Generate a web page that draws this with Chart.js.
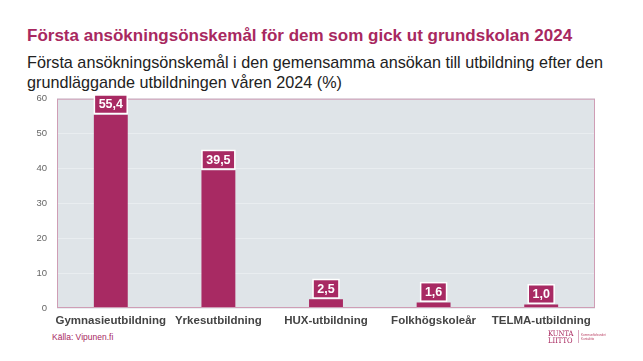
<!DOCTYPE html>
<html>
<head>
<meta charset="utf-8">
<script src="https://cdn.jsdelivr.net/npm/chart.js@4.4.0/dist/chart.umd.min.js"></script>
<style>
  html,body{margin:0;padding:0;background:#fff;width:643px;height:361px;overflow:hidden}
  body{position:relative;font-family:'Liberation Sans',Arial,sans-serif}
  .title{position:absolute;left:27px;top:26px;font-size:17px;font-weight:700;color:#a8285f;white-space:nowrap}
  .sub{position:absolute;left:27px;top:52px;font-size:16.2px;line-height:20px;color:#222;width:600px}
  .src{position:absolute;left:52px;top:332px;font-size:8.5px;color:#a8285f}
  .logo{position:absolute;left:548px;top:329px;width:50px;height:16px;color:#a8285f}
  .logo .w{position:absolute;left:0;font-family:'DejaVu Serif',serif;font-size:7.5px;line-height:7px;letter-spacing:0;transform:scaleX(0.9);transform-origin:left}
  .logo .sep{position:absolute;left:30px;top:1px;width:1px;height:13px;background:#d9a8bf}
  .logo .sm{position:absolute;left:33px;top:4px;font-size:3px;line-height:4px;color:#b46;white-space:nowrap}
  #wrap{position:absolute;left:0;top:83px;width:643px;height:249px}
</style>
</head>
<body>
<div class="title">Första ansökningsönskemål för dem som gick ut grundskolan 2024</div>
<div class="sub">Första ansökningsönskemål i den gemensamma ansökan till utbildning efter den grundläggande utbildningen våren 2024 (%)</div>
<div id="wrap"><canvas id="c" width="643" height="249"></canvas></div>
<div class="src">Källa: Vipunen.fi</div>
<div class="logo"><span class="w" style="top:1px">KUNTA</span><span class="w" style="top:8px">LIITTO</span><span class="sep"></span><span class="sm">Kommunförbundet<br>Kuntaliitto</span></div>
<script>
// data
const categories = ['Gymnasieutbildning', 'Yrkesutbildning', 'HUX-utbildning', 'Folkhögskoleår', 'TELMA-utbildning'];
const values = [55.4, 39.5, 2.5, 1.6, 1.0];
const yTicks = [0, 10, 20, 30, 40, 50, 60];

const MAGENTA = '#a82a63';

// grey plot background + pink frame
const plotBg = {
  id: 'plotBg',
  beforeDraw(chart) {
    const { ctx, chartArea: a } = chart;
    ctx.save();
    ctx.fillStyle = '#dfe4e8';
    ctx.fillRect(a.left, a.top, a.right - a.left, a.bottom - a.top);
    ctx.restore();
  },
  afterDatasetsDraw(chart) {
    const { ctx, chartArea: a } = chart;
    ctx.save();
    ctx.strokeStyle = '#cf9db5';
    ctx.lineWidth = 1;
    ctx.strokeRect(a.left + 0.5, a.top + 0.5, a.right - a.left - 1, a.bottom - a.top - 1);
    ctx.restore();
  }
};

// value labels in boxes above bars
const boxLabels = {
  id: 'boxLabels',
  afterDatasetsDraw(chart) {
    const { ctx } = chart;
    const meta = chart.getDatasetMeta(0);
    ctx.save();
    ctx.font = 'bold 12.5px "Liberation Sans", Arial, sans-serif';
    ctx.textAlign = 'center';
    ctx.textBaseline = 'middle';
    meta.data.forEach((bar, i) => {
      const txt = values[i].toFixed(1).replace('.', ',');
      const w = ctx.measureText(txt).width + 7;
      const h = 17;
      const x = bar.x - w / 2;
      const y = bar.y - 2 - h;
      ctx.fillStyle = '#ffffff';
      ctx.fillRect(x - 1.5, y - 1.5, w + 3, h + 3);
      ctx.fillStyle = MAGENTA;
      ctx.fillRect(x, y, w, h);
      ctx.fillStyle = '#ffffff';
      ctx.fillText(txt, bar.x, y + h / 2 + 0.5);
    });
    ctx.restore();
  }
};

new Chart(document.getElementById('c'), {
  type: 'bar',
  data: {
    labels: categories,
    datasets: [{
      data: values,
      backgroundColor: MAGENTA,
      borderWidth: 0,
      barPercentage: 0.63,
      categoryPercentage: 0.5
    }]
  },
  options: {
    responsive: false,
    animation: false,
    layout: { padding: { top: 3, right: 48, left: 0, bottom: 0 } },
    plugins: { legend: { display: false }, tooltip: { enabled: false } },
    scales: {
      x: {
        grid: { display: false, drawTicks: false },
        border: { display: false },
        ticks: {
          color: '#444',
          padding: 6,
          maxRotation: 0,
          autoSkip: false,
          font: { family: '"Liberation Sans", Arial, sans-serif', size: 11.5, weight: 'bold' }
        },
        afterFit(s) { s.height = 24; }
      },
      y: {
        min: 0,
        max: 60,
        afterBuildTicks(s) { s.ticks = yTicks.map(v => ({ value: v })); },
        grid: { color: '#e9edf0', lineWidth: 1, drawTicks: false },
        border: { display: false },
        ticks: {
          color: '#666',
          padding: 10,
          font: { family: '"Liberation Sans", Arial, sans-serif', size: 9.5 }
        },
        afterFit(s) { s.width = 57; }
      }
    }
  },
  plugins: [plotBg, boxLabels]
});
</script>
</body>
</html>
